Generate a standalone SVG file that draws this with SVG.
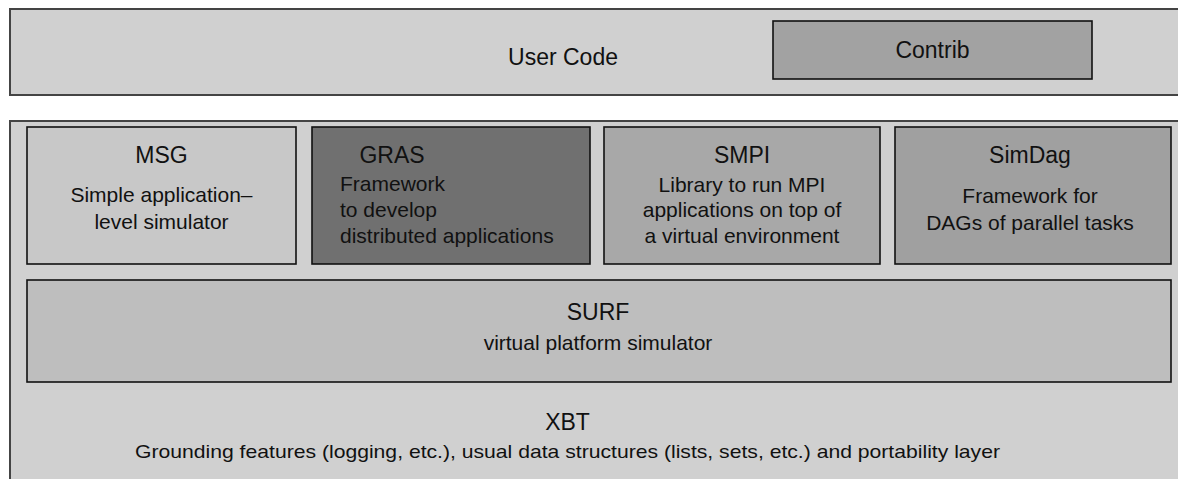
<svg xmlns="http://www.w3.org/2000/svg" width="1178" height="479" viewBox="0 0 1178 479">
<style>
text{font-family:"Liberation Sans",Arial,sans-serif;fill:#111;}
.t{font-size:23px;text-anchor:middle;}
.b{font-size:21px;text-anchor:middle;}
.bl{font-size:21px;}
.outer{fill:#d0d0d0;stroke:#444;stroke-width:2;}
.box{stroke:#111;stroke-width:1.6;}
</style>
<rect width="1178" height="479" fill="#ffffff"/>
<g id="user-code">
<rect class="outer" x="10" y="9" width="1180" height="86"/>
<text class="t" x="563" y="65">User Code</text>
</g>
<g id="contrib">
<rect class="box" x="773" y="21" width="319" height="58" fill="#a2a2a2"/>
<text class="t" x="932.5" y="58">Contrib</text>
</g>
<g id="xbt">
<rect class="outer" x="10" y="121" width="1180" height="370"/>
<text class="t" x="567.5" y="430">XBT</text>
<text x="567.5" y="458" style="font-size:19px;text-anchor:middle" textLength="865" lengthAdjust="spacingAndGlyphs">Grounding features (logging, etc.), usual data structures (lists, sets, etc.) and portability layer</text>
</g>
<g id="msg">
<rect class="box" x="27" y="127" width="269" height="137" fill="#c8c8c8"/>
<text class="t" x="161.5" y="163">MSG</text>
<text class="b" x="161.5" y="202">Simple application–</text>
<text class="b" x="161.5" y="229">level simulator</text>
</g>
<g id="gras">
<rect class="box" x="312" y="127" width="278" height="137" fill="#707070"/>
<text class="t" x="392" y="163">GRAS</text>
<text class="bl" x="340" y="191">Framework</text>
<text class="bl" x="340" y="217">to  develop</text>
<text class="bl" x="340" y="243">distributed applications</text>
</g>
<g id="smpi">
<rect class="box" x="604" y="127" width="276" height="137" fill="#a8a8a8"/>
<text class="t" x="742" y="163">SMPI</text>
<text class="b" x="742" y="192">Library to run MPI</text>
<text class="b" x="742" y="217">applications on top of</text>
<text class="b" x="742" y="243">a virtual environment</text>
</g>
<g id="simdag">
<rect class="box" x="895" y="127" width="276" height="137" fill="#a0a0a0"/>
<text class="t" x="1030" y="163">SimDag</text>
<text class="b" x="1030" y="203">Framework for</text>
<text class="b" x="1030" y="230">DAGs of parallel tasks</text>
</g>
<g id="surf">
<rect class="box" x="27" y="280" width="1144" height="102" fill="#bebebe"/>
<text class="t" x="598" y="320">SURF</text>
<text class="b" x="598" y="350">virtual platform simulator</text>
</g>
<g id="connectors"/>
</svg>
